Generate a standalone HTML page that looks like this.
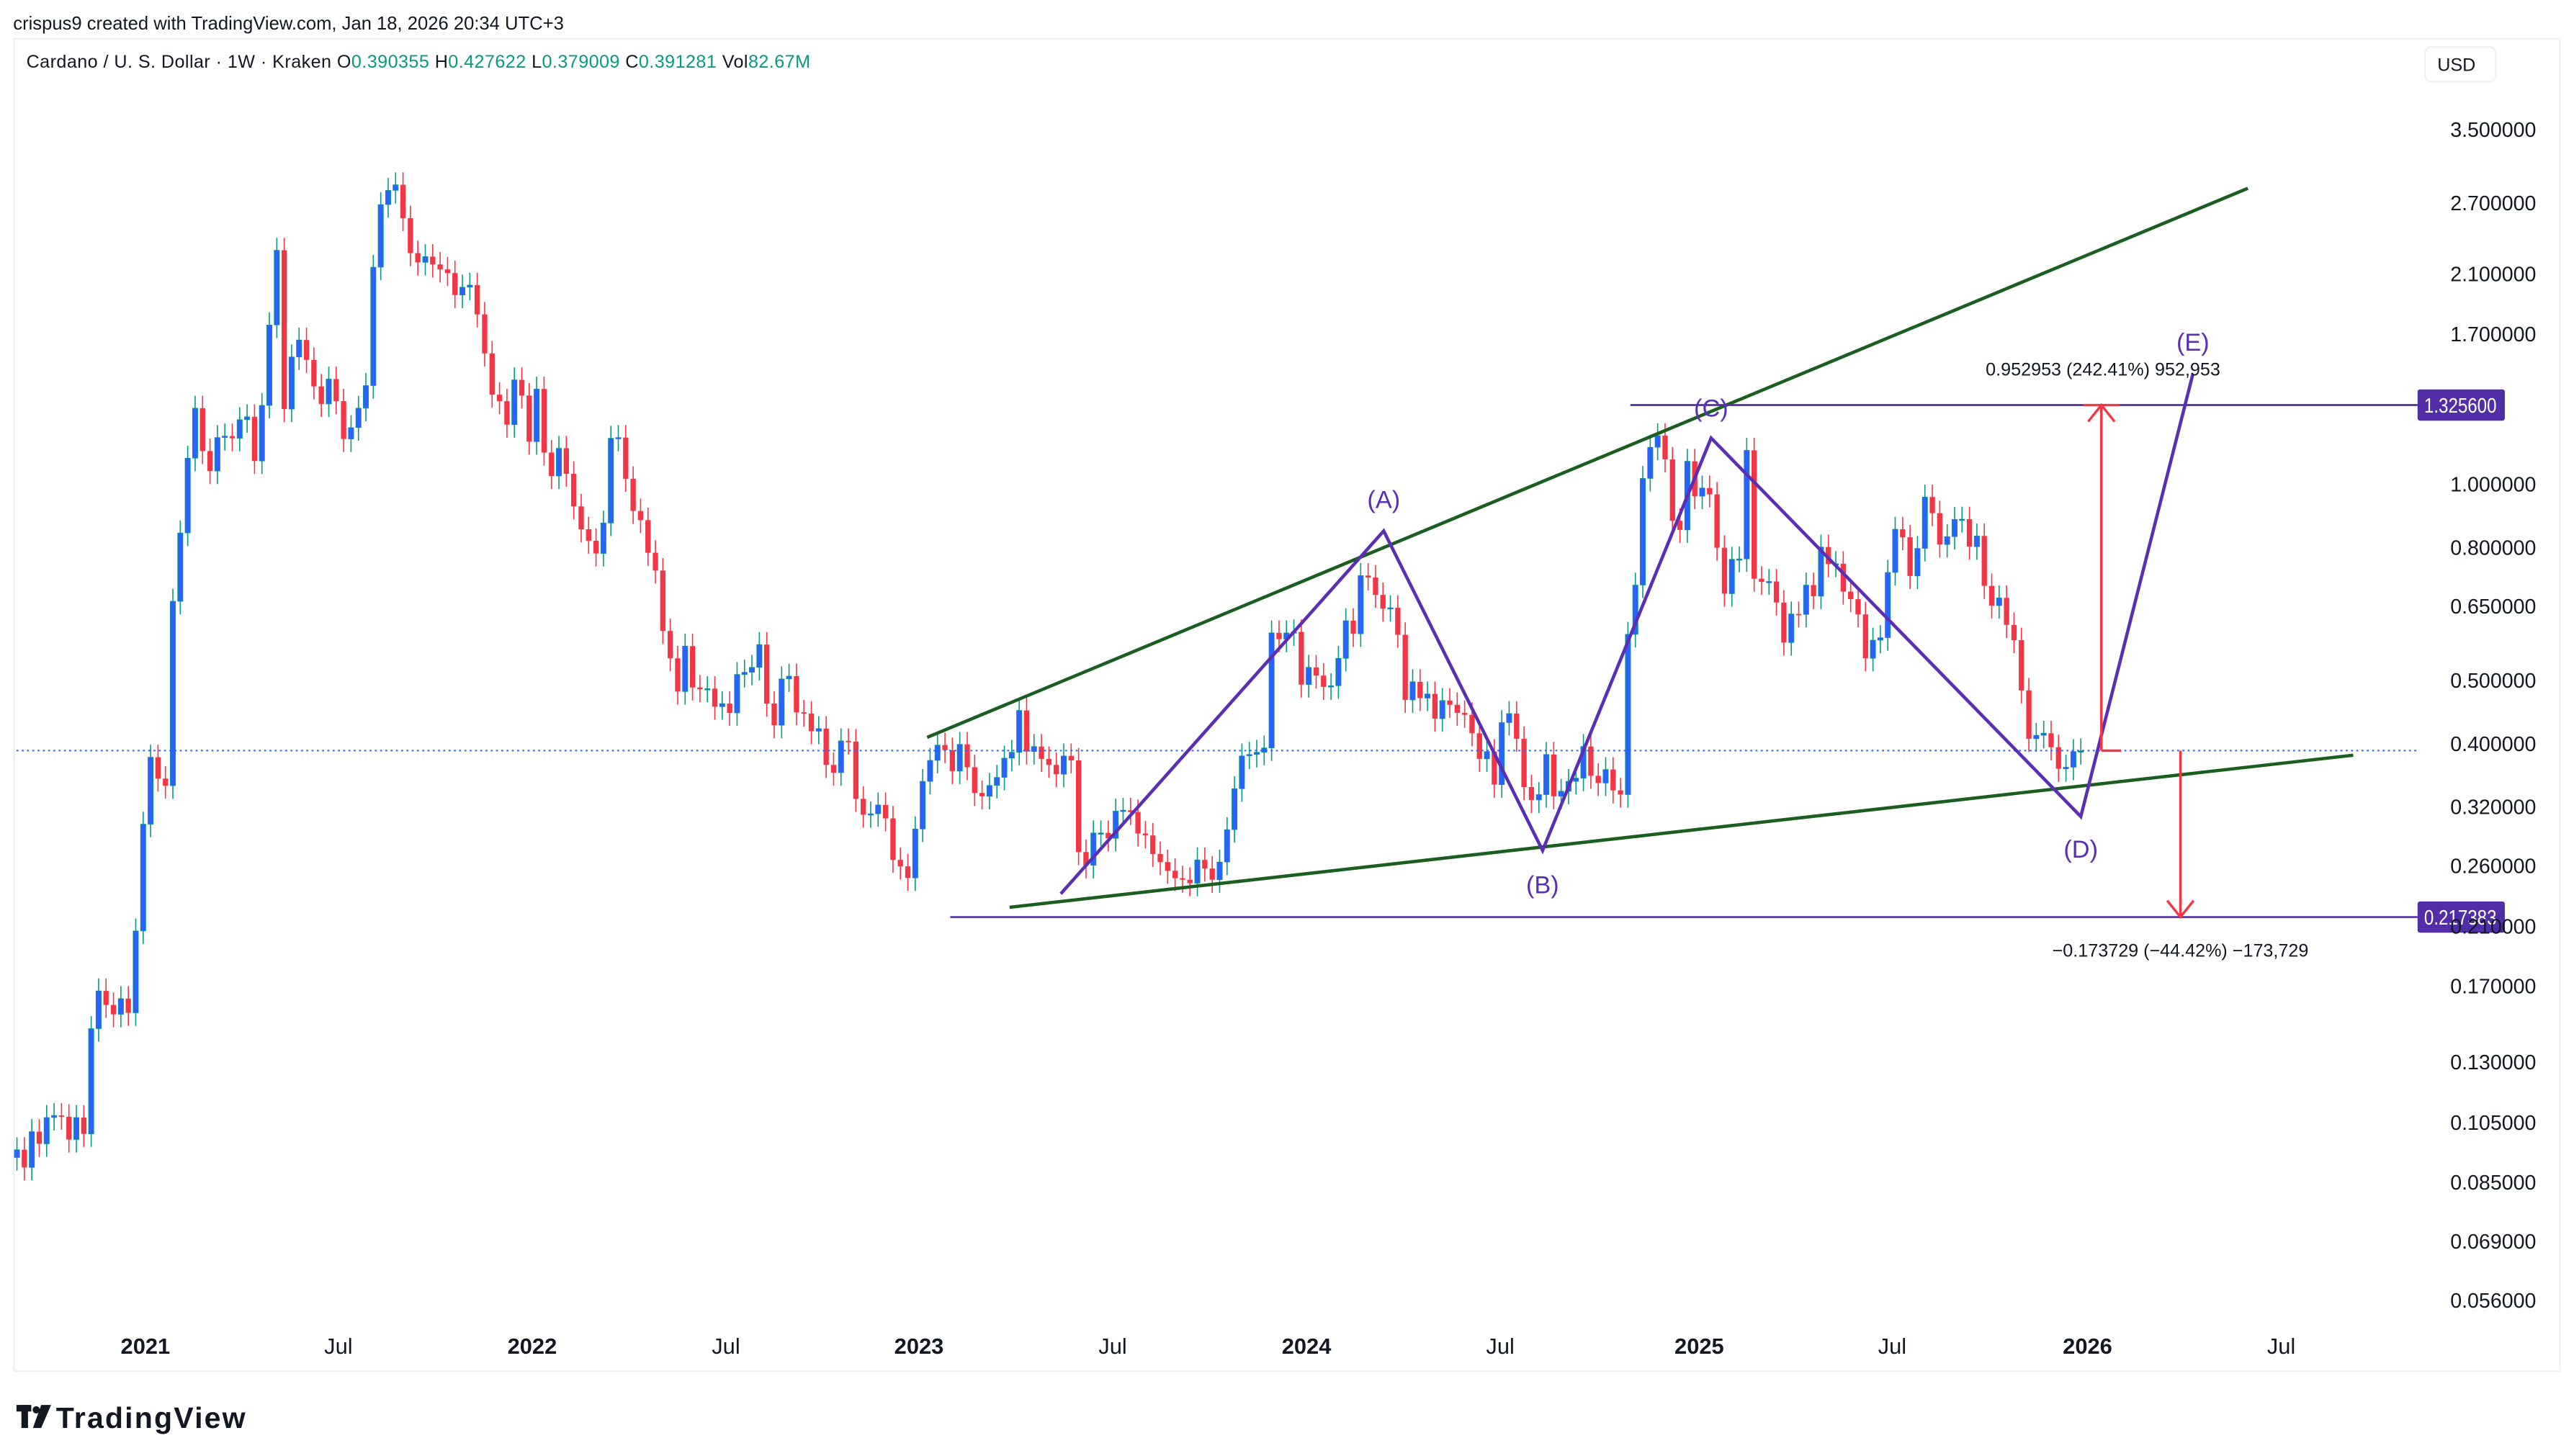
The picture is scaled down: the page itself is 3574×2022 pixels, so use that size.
<!DOCTYPE html>
<html><head><meta charset="utf-8"><style>
html,body{margin:0;padding:0;background:#fff;}
svg{display:block;}
text{font-family:"Liberation Sans",sans-serif;}
</style></head><body>
<svg id="chart" xmlns="http://www.w3.org/2000/svg" width="3574" height="2022" viewBox="0 0 1563 884" preserveAspectRatio="none">
<rect x="0" y="0" width="1563" height="884" fill="#fff"/>
<text x="8" y="18" font-size="11.2" fill="#131722">crispus9 created with TradingView.com, Jan 18, 2026 20:34 UTC+3</text>
<rect x="8.5" y="23.5" width="1546" height="809" fill="none" stroke="#f0f0f3" stroke-width="1"/>
<text x="16" y="41" font-size="11" fill="#131722" textLength="476">Cardano / U. S. Dollar · 1W · Kraken  O<tspan fill="#089981">0.390355</tspan>  H<tspan fill="#089981">0.427622</tspan>  L<tspan fill="#089981">0.379009</tspan>  C<tspan fill="#089981">0.391281</tspan>  Vol<tspan fill="#089981">82.67M</tspan></text>
<rect x="1472.5" y="28.5" width="43" height="21" rx="4" fill="#fff" stroke="#f0f0f3"/>
<text x="1480" y="43" font-size="11" fill="#131722">USD</text>
<g id="candles"></g>
<g id="overlay"></g>
<g id="axes"></g>
<g>
<rect x="10" y="853" width="9" height="4" fill="#131722"/><rect x="13" y="853" width="4" height="14" fill="#131722"/>
<circle cx="22" cy="856" r="2.2" fill="#131722"/><polygon points="25,853 31,853 25,867 20,867" fill="#131722"/>
<text x="34" y="867" font-size="18" font-weight="bold" fill="#131722" textLength="115">TradingView</text>
</g>
</svg>
<script>
const closes = [
0.0956,0.0898,0.1019,0.0976,0.1071,0.1079,0.1074,0.0991,0.1071,0.1011,
0.1466,0.1675,0.1594,0.1542,0.1630,0.1550,0.2070,0.3018,0.3823,0.3545,
0.3457,0.663,0.844,1.099,1.311,1.127,1.050,1.182,1.188,1.179,
1.259,1.272,1.088,1.324,1.759,2.290,1.307,1.571,1.668,1.555,
1.416,1.331,1.453,1.344,1.176,1.224,1.311,1.420,2.157,2.691,
2.829,2.886,2.565,2.267,2.194,2.239,2.178,2.140,2.113,1.955,
2.010,2.025,1.826,1.591,1.375,1.344,1.237,1.449,1.371,1.165,
1.403,1.121,1.032,1.138,1.040,0.927,0.855,0.821,0.785,0.874,
1.179,1.182,1.022,0.912,0.883,0.787,0.739,0.597,0.542,0.482,
0.566,0.489,0.486,0.487,0.457,
0.462,0.447,0.512,0.516,0.525,0.569,0.462,0.428,0.504,0.509,
0.448,0.446,0.419,0.423,0.372,0.362,0.405,0.404,0.330,0.312,
0.313,0.323,0.308,0.266,0.260,0.2496,0.2967,0.351,0.378,0.399,
0.392,0.364,0.400,0.369,0.337,0.333,0.346,0.356,0.381,0.389,
0.451,0.390,0.397,0.380,0.372,0.360,0.384,0.378,0.2735,0.261,
0.2926,0.2926,0.287,0.316,0.317,0.315,
0.292,0.290,0.2716,0.264,0.256,0.2494,0.248,0.245,0.266,0.258,
0.248,0.264,0.296,0.342,0.384,0.386,0.389,0.395,0.593,0.580,
0.593,0.595,0.494,0.525,0.510,0.490,0.492,0.542,0.619,0.591,
0.726,0.721,0.678,0.646,0.648,0.589,0.468,0.499,0.471,0.478,
0.438,0.467,0.460,0.447,0.444,0.416,0.380,0.390,0.347,0.432,
0.446,0.408,0.344,0.3287,0.335,0.386,0.333,0.339,0.351,
0.355,
0.397,0.358,0.349,0.366,0.340,0.335,0.590,0.702,1.023,1.142,
1.190,1.094,0.881,0.853,1.087,0.961,0.989,0.967,0.801,0.681,
0.769,0.770,1.130,0.718,0.710,0.711,0.660,0.573,0.634,0.633,
0.702,0.675,0.803,0.756,0.757,0.686,0.668,0.633,0.542,0.578,
0.583,0.734,0.855,0.831,0.725,0.799,0.958,0.905,0.810,0.833,
0.885,0.886,0.804,0.835,0.700,0.653,0.671,0.610,0.578,0.484,
0.408,0.413,0.416,0.396,0.367,0.369,0.390,0.391
];
const firstOpen = 0.0930;
const priceTicks = [3.5,2.7,2.1,1.7,1.0,0.8,0.65,0.5,0.4,0.32,0.26,0.21,0.17,0.13,0.105,0.085,0.069,0.056];
const timeLabels = ["2021","Jul","2022","Jul","2023","Jul","2024","Jul","2025","Jul","2026","Jul"];
const timeLabelWeeks = [17.3,43.3,69.4,95.5,121.5,147.6,173.7,199.8,226.6,252.6,278.9,305];
const boldLabels = [true,false,true,false,true,false,true,false,true,false,true,false];
const lastPrice = 0.391281;
const targetHigh = 1.3256;
const supportLevel = 0.217383;
const waveLabels = ["(A)","(B)","(C)","(D)","(E)"];
const waveWeeks = [184.1,205.5,228.2,278.0,293.1];
const wavePrices = [0.85,0.275,1.18,0.31,1.48];
const waveStart = {w:140.6, p:0.236};
const upperTrend = [{w:122.6,p:0.41},{w:300.5,p:2.85}];
const lowerTrend = [{w:133.7,p:0.225},{w:314.7,p:0.385}];

const NS="http://www.w3.org/2000/svg";
const X0=10.3, STEP=4.508, PLOT_R=1468;
function xw(w){return X0+w*STEP;}
function yp(p){return 79+(Math.log10(3.5)-Math.log10(p))*395.9;}
function mk(tag,attrs,parent){const e=document.createElementNS(NS,tag);for(const k in attrs)e.setAttribute(k,attrs[k]);parent.appendChild(e);return e;}

const cg=document.getElementById('candles');
for(let i=0;i<closes.length;i++){
  const o=i===0?firstOpen:closes[i-1], c=closes[i];
  const up=c>=o;
  const hi=Math.max(o,c)*1.045, lo=Math.min(o,c)*0.955;
  const x=xw(i);
  const g=mk('g',{},cg);
  
  
  mk('line',{x1:x,x2:x,y1:yp(hi),y2:yp(lo),stroke:up?'#089981':'#f23645','stroke-width':0.7},g);
  const y1=yp(Math.max(o,c)), y2=yp(Math.min(o,c));
  mk('rect',{x:x-1.6,y:y1,width:3.2,height:Math.max(0.8,y2-y1),fill:up?'#2962ff':'#f23645',stroke:up?'#089981':'none','stroke-width':0.3},g);
}

const ax=document.getElementById('axes');
priceTicks.forEach(p=>{
  const t=mk('text',{x:1540,y:yp(p)+4,'font-size':12.5,fill:'#131722','text-anchor':'end'},ax);
  
  
  t.textContent=p.toFixed(6);
});
timeLabels.forEach((l,i)=>{
  const t=mk('text',{x:xw(timeLabelWeeks[i]),y:822,'font-size':13.5,fill:'#131722','text-anchor':'middle','font-weight':boldLabels[i]?'bold':'normal'},ax);
  
  
  t.textContent=l;
});

const ov=document.getElementById('overlay');
let e=mk('line',{x1:10,x2:PLOT_R,y1:yp(lastPrice),y2:yp(lastPrice),stroke:'#2962ff','stroke-width':0.9,'stroke-dasharray':'1.2 2'},ov);


e=mk('line',{x1:xw(upperTrend[0].w),y1:yp(upperTrend[0].p),x2:xw(upperTrend[1].w),y2:yp(upperTrend[1].p),stroke:'#1b5e20','stroke-width':2},ov);


e=mk('line',{x1:xw(lowerTrend[0].w),y1:yp(lowerTrend[0].p),x2:xw(lowerTrend[1].w),y2:yp(lowerTrend[1].p),stroke:'#1b5e20','stroke-width':2},ov);


e=mk('line',{x1:990,x2:PLOT_R,y1:yp(targetHigh),y2:yp(targetHigh),stroke:'#512da8','stroke-width':1.2},ov);


e=mk('line',{x1:577,x2:PLOT_R,y1:yp(supportLevel),y2:yp(supportLevel),stroke:'#512da8','stroke-width':1.2},ov);


[[targetHigh,'resistance-price-label'],[supportLevel,'support-price-label']].forEach(([p,n])=>{
  const r=mk('rect',{x:1468,y:yp(p)-9.5,width:53,height:19,rx:1.5,fill:'#512da8'},ov);
  
  
  const t=mk('text',{x:1472,y:yp(p)+4.5,'font-size':12.5,fill:'#fff',textLength:44,lengthAdjust:'spacingAndGlyphs'},ov);
  
  
  t.textContent=p.toFixed(6);
});
let pts=[xw(waveStart.w)+','+yp(waveStart.p)];
waveWeeks.forEach((w,i)=>pts.push(xw(w)+','+yp(wavePrices[i])));
e=mk('polyline',{points:pts.join(' '),fill:'none',stroke:'#5b2fb5','stroke-width':2,'stroke-linejoin':'miter'},ov);


const labelOff=[-14,26,-13,25,-14];
waveLabels.forEach((l,i)=>{
  const t=mk('text',{x:xw(waveWeeks[i]),y:yp(wavePrices[i])+labelOff[i],'font-size':15,fill:'#5b2fb5','text-anchor':'middle'},ov);
  
  
  t.textContent=l;
});
const red='#f23645';
const ax1=1276, yTop=yp(targetHigh), yBot=yp(lastPrice);
const up=mk('g',{stroke:red,'stroke-width':1.5,fill:'none'},ov);


mk('line',{x1:ax1,x2:ax1,y1:yTop,y2:yBot},up);
mk('line',{x1:ax1-11,x2:ax1+11,y1:yTop,y2:yTop},up);
mk('polyline',{points:`${ax1-8},${yTop+10} ${ax1},${yTop} ${ax1+8},${yTop+10}`},up);
mk('line',{x1:ax1,x2:ax1+12,y1:yBot,y2:yBot},up);
let t=mk('text',{x:1277,y:yTop-18,'font-size':11,fill:'#131722','text-anchor':'middle'},ov);


t.textContent='0.952953 (242.41%) 952,953';
const ax2=1324, ySup=yp(supportLevel);
const dn=mk('g',{stroke:red,'stroke-width':1.5,fill:'none'},ov);


mk('line',{x1:ax2,x2:ax2,y1:yBot,y2:ySup},dn);
mk('polyline',{points:`${ax2-8},${ySup-10} ${ax2},${ySup} ${ax2+8},${ySup-10}`},dn);
t=mk('text',{x:1324,y:ySup+24,'font-size':11,fill:'#131722','text-anchor':'middle'},ov);


t.textContent='\u22120.173729 (\u221244.42%) \u2212173,729';
</script>
</body></html>
